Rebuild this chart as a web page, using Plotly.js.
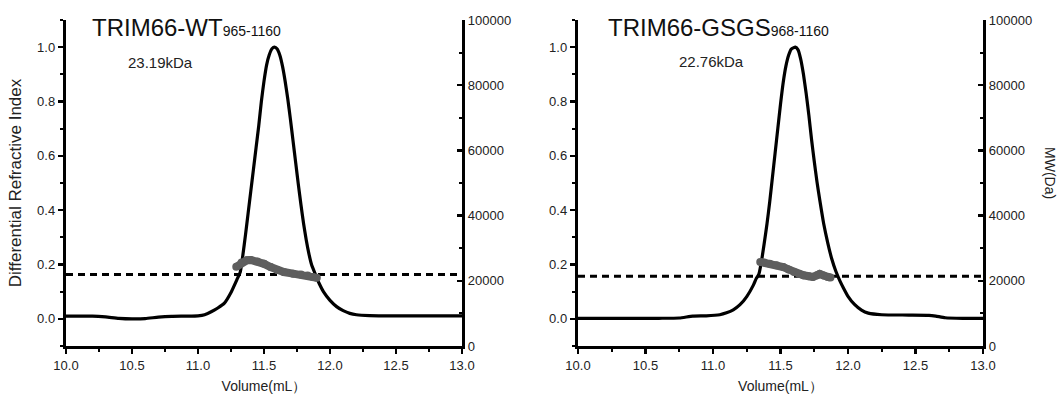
<!DOCTYPE html>
<html>
<head>
<meta charset="utf-8">
<script src="https://cdn.plot.ly/plotly-3.0.1.min.js"></script>
<style>html,body{margin:0;padding:0;background:#fff;}#chart{width:1062px;height:399px;}</style>
</head>
<body>
<div id="chart"></div>
<script>
// ---- Left panel: TRIM66-WT 965-1160 ----
const wtVol = [10.00,10.20,10.30,10.40,10.50,10.60,10.70,10.80,10.90,11.00,11.05,11.10,11.15,11.20,11.25,11.30,11.32,11.34,11.36,11.38,11.40,11.42,11.44,11.46,11.48,11.50,11.52,11.54,11.56,11.58,11.60,11.62,11.64,11.66,11.68,11.70,11.72,11.74,11.76,11.78,11.80,11.82,11.84,11.86,11.88,11.90,11.92,11.95,12.00,12.05,12.10,12.15,12.20,12.30,12.50,12.80,13.00];
const wtRI  = [0.010,0.010,0.007,0.002,0.000,0.001,0.006,0.009,0.010,0.011,0.015,0.026,0.040,0.058,0.097,0.150,0.172,0.235,0.310,0.390,0.470,0.550,0.630,0.710,0.800,0.875,0.935,0.972,0.994,1.000,0.993,0.970,0.930,0.875,0.810,0.735,0.655,0.575,0.495,0.420,0.350,0.290,0.240,0.200,0.175,0.150,0.128,0.100,0.068,0.045,0.030,0.020,0.015,0.012,0.011,0.011,0.011];
const wtMwVol = [11.29,11.33,11.37,11.40,11.45,11.50,11.55,11.60,11.65,11.72,11.78,11.83,11.87,11.90];
const wtMw    = [24300,25600,26300,26400,25900,25200,24200,23300,22700,22200,21900,21600,21200,20900];
const wtAvgMw = 21900;

// ---- Right panel: TRIM66-GSGS 968-1160 ----
const gsVol = [10.00,10.30,10.60,10.75,10.85,10.95,11.05,11.10,11.15,11.20,11.25,11.30,11.32,11.34,11.36,11.38,11.40,11.42,11.44,11.46,11.48,11.50,11.52,11.54,11.56,11.58,11.61,11.63,11.65,11.67,11.69,11.71,11.73,11.75,11.77,11.79,11.82,11.85,11.88,11.91,11.94,11.97,12.00,12.05,12.10,12.15,12.25,12.45,12.60,12.65,12.72,12.85,13.00];
const gsRI  = [0.002,0.002,0.002,0.003,0.010,0.011,0.015,0.022,0.033,0.052,0.082,0.125,0.148,0.165,0.215,0.280,0.350,0.430,0.520,0.610,0.700,0.790,0.870,0.930,0.970,0.993,1.000,0.990,0.955,0.900,0.830,0.750,0.660,0.580,0.505,0.440,0.350,0.280,0.220,0.175,0.140,0.110,0.083,0.052,0.032,0.021,0.015,0.014,0.013,0.010,0.004,0.002,0.002];
const gsMwVol = [11.35,11.38,11.42,11.47,11.52,11.56,11.60,11.64,11.67,11.71,11.74,11.77,11.79,11.82,11.85,11.87];
const gsMw    = [25800,25600,25200,24800,24200,23500,22700,22100,21700,21400,21200,21700,22100,21600,21200,21000];
const gsAvgMw = 21400;

const xRange = [10, 13];
const xTickVals = [10.0,10.5,11.0,11.5,12.0,12.5,13.0];
const riTickVals = [0.0,0.2,0.4,0.6,0.8,1.0];
const mwTickVals = [0,20000,40000,60000,80000,100000];

const panelTitles = ['TRIM66-WT', 'TRIM66-GSGS'];
const panelSubs = ['965-1160', '968-1160'];
const massLabels = ['23.19kDa', '22.76kDa'];
const xTitle = 'Volume(mL）';
const riTitle = 'Differential Refractive Index';
const mwTitle = 'MW(Da)';

const FONT = '"Liberation Sans", Arial, Helvetica, sans-serif';
const riLine = {color:'#000', width:3.2, shape:'spline', smoothing:0.5};
const mwLine = {color:'#5e5e5e', width:8};
const mwMarker = {color:'#5e5e5e', size:8};
const dashLine = {color:'#000', width:3, dash:'7px,5px'};

const traces = [
  {x: wtVol, y: wtRI, xaxis:'x', yaxis:'y', mode:'lines', line: riLine, hoverinfo:'skip'},
  {x: xRange, y: [wtAvgMw, wtAvgMw], xaxis:'x', yaxis:'y2', mode:'lines', line: dashLine, hoverinfo:'skip'},
  {x: wtMwVol, y: wtMw, xaxis:'x', yaxis:'y2', mode:'lines+markers', line: mwLine, marker: mwMarker, hoverinfo:'skip'},
  {x: gsVol, y: gsRI, xaxis:'x2', yaxis:'y3', mode:'lines', line: riLine, hoverinfo:'skip'},
  {x: xRange, y: [gsAvgMw, gsAvgMw], xaxis:'x2', yaxis:'y4', mode:'lines', line: dashLine, hoverinfo:'skip'},
  {x: gsMwVol, y: gsMw, xaxis:'x2', yaxis:'y4', mode:'lines+markers', line: mwLine, marker: mwMarker, hoverinfo:'skip'}
];

function xAxis(domain, anchor) {
  return {
    domain: domain, anchor: anchor, range: xRange,
    tickmode:'array', tickvals: xTickVals, tickformat:'.1f',
    showline:true, linewidth:3.2, linecolor:'#000',
    ticks:'outside', ticklen:5, tickwidth:2.5, tickcolor:'#000',
    minor:{ticks:'outside', ticklen:3, tickwidth:2, tickcolor:'#000', dtick:0.25, showgrid:false},
    showgrid:false, zeroline:false,
    tickfont:{size:13, color:'#222'},
    title:{text:xTitle, font:{size:14, color:'#222'}, standoff:10}
  };
}
function riAxis(anchor, title) {
  return {
    domain:[0,1], anchor: anchor, range:[-0.1, 1.1],
    tickmode:'array', tickvals: riTickVals, tickformat:'.1f',
    showline:true, linewidth:3.2, linecolor:'#000',
    ticks:'outside', ticklen:5, tickwidth:2.5, tickcolor:'#000',
    minor:{ticks:'outside', ticklen:3, tickwidth:2, tickcolor:'#000', dtick:0.1, showgrid:false},
    showgrid:false, zeroline:false,
    tickfont:{size:13, color:'#222'},
    title: title ? {text:title, font:{size:17, color:'#222'}, standoff:12} : {text:''}
  };
}
function mwAxis(overlay, anchor) {
  return {
    overlaying: overlay, anchor: anchor, side:'right', range:[0, 100000],
    tickmode:'array', tickvals: mwTickVals, tickformat:'d',
    showline:true, linewidth:3.2, linecolor:'#000',
    ticks:'inside', ticklen:5, tickwidth:2.5, tickcolor:'#000',
    minor:{ticks:'inside', ticklen:3, tickwidth:2, tickcolor:'#000', dtick:10000, showgrid:false},
    showgrid:false, zeroline:false,
    tickfont:{size:13, color:'#222'}
  };
}

const W = 1062, H = 399, T = 20, B = 53;
const py = y => (H - B - y) / (H - T - B);
const px = x => x / W;

const layout = {
  width: W, height: H,
  margin:{l:0, r:0, t:T, b:B, pad:0},
  paper_bgcolor:'#fff', plot_bgcolor:'#fff',
  showlegend:false,
  font:{family: FONT, size:13, color:'#222'},
  xaxis: xAxis([66/W, 462/W], 'y'),
  yaxis: riAxis('x', riTitle),
  yaxis2: mwAxis('y', 'x'),
  xaxis2: xAxis([578/W, 983/W], 'y3'),
  yaxis3: riAxis('x2', ''),
  yaxis4: mwAxis('y3', 'x2'),
  annotations: [
    {xref:'paper', yref:'paper', x:px(90), y:py(28), xanchor:'left', yanchor:'middle', showarrow:false,
     text: panelTitles[0] + '<span style="font-size:14px">' + panelSubs[0] + '</span>', font:{size:24, color:'#111'}},
    {xref:'paper', yref:'paper', x:px(606), y:py(28), xanchor:'left', yanchor:'middle', showarrow:false,
     text: panelTitles[1] + '<span style="font-size:14px">' + panelSubs[1] + '</span>', font:{size:24, color:'#111'}},
    {xref:'paper', yref:'paper', x:px(160), y:py(62), xanchor:'center', yanchor:'middle', showarrow:false,
     text: massLabels[0], font:{size:15, color:'#222'}},
    {xref:'paper', yref:'paper', x:px(711), y:py(61), xanchor:'center', yanchor:'middle', showarrow:false,
     text: massLabels[1], font:{size:15, color:'#222'}},
    {xref:'paper', yref:'paper', x:px(1050), y:py(173), xanchor:'center', yanchor:'middle', showarrow:false,
     textangle:90, text: mwTitle, font:{size:14, color:'#222'}}
  ]
};

Plotly.newPlot('chart', traces, layout, {staticPlot:true, displayModeBar:false});
</script>
</body>
</html>
